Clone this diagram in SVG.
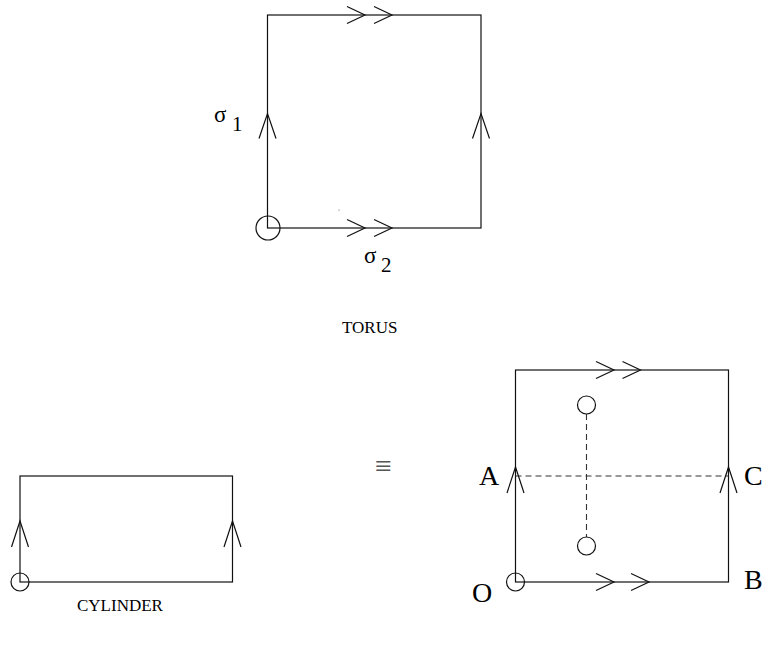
<svg xmlns="http://www.w3.org/2000/svg" width="765" height="650" viewBox="0 0 765 650">
<style>
.ln{fill:none;stroke:#111;stroke-width:1.2}
.dash{fill:none;stroke:#333;stroke-width:1.1;stroke-dasharray:6 4}
.t{font-family:"Liberation Serif","DejaVu Serif",serif;fill:#000}
</style>
<rect width="765" height="650" fill="#fff"/>
<g id="torus">
<rect class="ln" x="267.5" y="15" width="213.5" height="213"/>
<circle class="ln" cx="268" cy="228" r="12"/>
<path class="ln" d="M347,6.5 L365,15 L347,23.5 M374,6.5 L392,15 L374,23.5"/>
<path class="ln" d="M347,219.5 L365,228 L347,236.5 M374,219.5 L392,228 L374,236.5"/>
<path class="ln" d="M259,138.5 L267.5,113.5 L276,138.5 M472.5,138.5 L481,113.5 L489.5,138.5"/>
<circle cx="339" cy="210" r="0.6" fill="#555"/>
<text class="t" x="214" y="122" font-size="23">σ</text>
<text class="t" x="232" y="131" font-size="21">1</text>
<text class="t" x="364" y="263" font-size="23">σ</text>
<text class="t" x="381" y="272" font-size="21">2</text>
<text class="t" x="342" y="333" font-size="17">TORUS</text>
</g>
<g id="cylinder">
<rect class="ln" x="20" y="476" width="212.5" height="106"/>
<circle class="ln" cx="20" cy="582" r="9"/>
<path class="ln" d="M11.5,547 L20,521 L28.5,547 M224,547 L232.5,521 L241,547"/>
<text class="t" x="77" y="611" font-size="17">CYLINDER</text>
</g>
<g id="equiv">
<text class="t" x="375" y="476" font-size="30" fill="#444" style="fill:#555">≡</text>
</g>
<g id="square">
<rect class="ln" x="515.5" y="370" width="213" height="212"/>
<path class="dash" d="M515.5,476 L728.5,476 M586.5,414 L586.5,537"/>
<circle class="ln" cx="586.5" cy="405" r="9" fill="#fff"/>
<circle class="ln" cx="586.5" cy="546" r="9" fill="#fff"/>
<circle class="ln" cx="515.5" cy="582" r="9"/>
<path class="ln" d="M596,361.5 L614,370 L596,378.5 M622.5,361.5 L640.5,370 L622.5,378.5"/>
<path class="ln" d="M596,573.5 L614,582 L596,590.5 M631,573.5 L649,582 L631,590.5"/>
<path class="ln" d="M507,493 L515.5,467 L524,493 M720,493 L728.5,467 L737,493"/>
<text class="t" x="479" y="485" font-size="28">A</text>
<text class="t" x="744" y="485" font-size="28">C</text>
<text class="t" x="472" y="602" font-size="28">O</text>
<text class="t" x="744" y="589" font-size="28">B</text>
</g>
</svg>
